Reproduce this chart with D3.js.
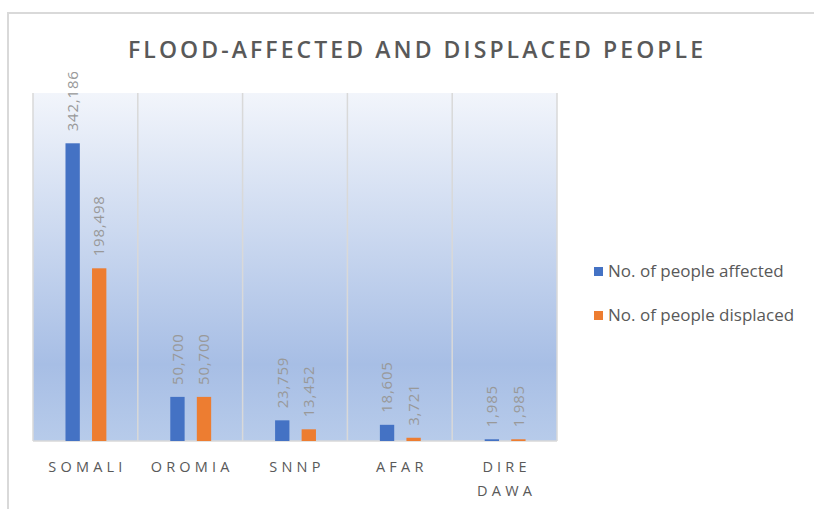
<!DOCTYPE html>
<html>
<head>
<meta charset="utf-8">
<script src="https://cdn.jsdelivr.net/npm/d3@7"></script>
<style>
  body { margin: 0; background: #fff; }
  text { font-family: "Open Sans", "Liberation Sans", sans-serif; }
</style>
</head>
<body>
<svg id="chart" width="814" height="509"></svg>
<script>
// data
const regions = ["SOMALI", "OROMIA", "SNNP", "AFAR", "DIRE DAWA"];
const affected = [342186, 50700, 23759, 18605, 1985];
const displaced = [198498, 50700, 13452, 3721, 1985];
const seriesNames = ["No. of people affected", "No. of people displaced"];
const colors = ["#4472c4", "#ed7d31"];

const svg = d3.select("#chart");

// outer frame
svg.append("rect")
    .attr("x", 8).attr("y", 13)
    .attr("width", 820).attr("height", 510)
    .attr("fill", "#fff")
    .attr("stroke", "#d9d9d9")
    .attr("stroke-width", 2);

let plot = { left: 33, right: 557, top: 93, bottom: 441 };

// gradient background
let grad = svg.append("defs").append("linearGradient")
    .attr("id", "bg").attr("x1", 0).attr("y1", 0).attr("x2", 0).attr("y2", 1);
grad.append("stop").attr("offset", "0%").attr("stop-color", "#f2f5fb");
grad.append("stop").attr("offset", "78%").attr("stop-color", "#a7bee5");
grad.append("stop").attr("offset", "100%").attr("stop-color", "#b7cbea");

svg.append("rect")
    .attr("x", plot.left).attr("y", plot.top)
    .attr("width", plot.right - plot.left)
    .attr("height", plot.bottom - plot.top)
    .attr("fill", "url(#bg)");

let x0 = d3.scaleBand().domain(regions).range([plot.left, plot.right]).padding(0);
let x1 = d3.scaleBand().domain([0, 1])
    .range([x0.bandwidth() * 0.31, x0.bandwidth() * 0.70])
    .paddingInner(0.46);
let y = d3.scaleLinear().domain([0, 400000]).range([plot.bottom, plot.top]);

// vertical gridlines at category boundaries
let bounds = regions.map(r => x0(r)).concat([plot.right]);
svg.append("g").selectAll("line").data(bounds).enter()
    .append("line")
    .attr("x1", d => d).attr("x2", d => d)
    .attr("y1", plot.top).attr("y2", plot.bottom)
    .attr("stroke", "#d9d9d9").attr("stroke-width", 1.5);

// baseline
svg.append("line")
    .attr("x1", plot.left).attr("x2", plot.right)
    .attr("y1", plot.bottom).attr("y2", plot.bottom)
    .attr("stroke", "#d9d9d9").attr("stroke-width", 1.5);

let rows = regions.map((r, i) => ({ region: r, values: [affected[i], displaced[i]] }));

let groups = svg.append("g").selectAll("g").data(rows).enter()
    .append("g")
    .attr("transform", d => `translate(${x0(d.region)},0)`);

groups.selectAll("rect").data(d => d.values).enter()
    .append("rect")
    .attr("x", (d, i) => x1(i))
    .attr("width", x1.bandwidth())
    .attr("y", d => y(d))
    .attr("height", d => plot.bottom - y(d))
    .attr("fill", (d, i) => colors[i]);

// rotated value labels
groups.selectAll("text").data(d => d.values).enter()
    .append("text")
    .attr("transform", (d, i) => `translate(${x1(i) + x1.bandwidth() / 2},${y(d) - 12}) rotate(-90)`)
    .attr("dy", "0.35em")
    .attr("font-size", 15)
    .attr("letter-spacing", 0.8)
    .attr("fill", "#999999")
    .text(d => d3.format(",")(d));

// category labels
svg.append("g").selectAll("text").data(regions).enter()
    .append("text")
    .attr("x", d => x0(d) + x0.bandwidth() / 2)
    .attr("y", 472)
    .attr("text-anchor", "middle")
    .attr("font-size", 14.5)
    .attr("letter-spacing", 4.2)
    .attr("fill", "#595959")
    .each(function(d) {
        let parts = d.split(" ");
        let t = d3.select(this);
        parts.forEach((p, k) => {
            t.append("tspan")
                .attr("x", x0(d) + x0.bandwidth() / 2 + 2)
                .attr("dy", k === 0 ? 0 : 24)
                .text(p);
        });
    });

// title
svg.append("text")
    .attr("x", 128).attr("y", 58)
    .attr("font-size", 23)
    .attr("font-weight", 600)
    .attr("textLength", 575)
    .attr("lengthAdjust", "spacing")
    .attr("fill", "#595959")
    .text("FLOOD-AFFECTED AND DISPLACED PEOPLE");

// legend
let legend = svg.append("g").selectAll("g").data(seriesNames).enter()
    .append("g")
    .attr("transform", (d, i) => `translate(594,${267 + i * 44})`);
legend.append("rect")
    .attr("width", 9).attr("height", 9)
    .attr("fill", (d, i) => colors[i]);
legend.append("text")
    .attr("x", 14).attr("y", 10)
    .attr("font-size", 17)
    .attr("fill", "#595959")
    .text(d => d);
</script>
</body>
</html>
